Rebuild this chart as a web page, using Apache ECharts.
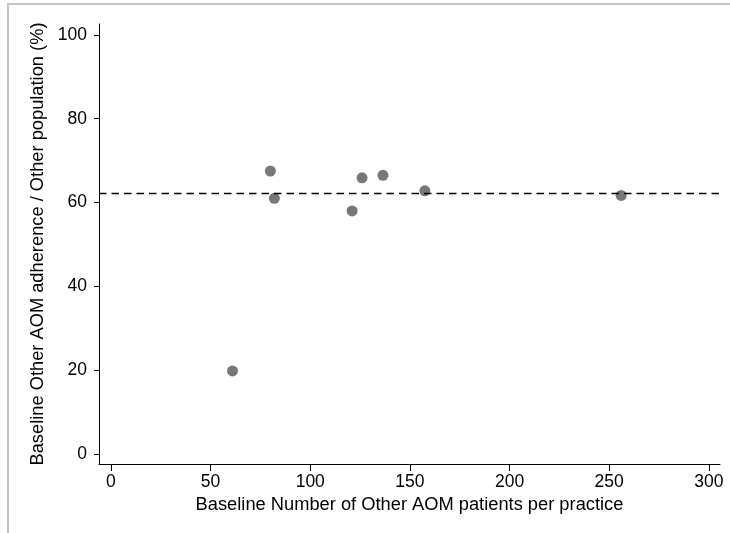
<!DOCTYPE html>
<html>
<head>
<meta charset="utf-8">
<script src="https://cdn.jsdelivr.net/npm/echarts@6/dist/echarts.min.js"></script>
<style>
  html, body { margin: 0; padding: 0; background: #fff; }
  #wrap { position: relative; width: 730px; height: 533px; }
  #frame { position: absolute; left: 7px; top: 3px; width: 723px; height: 530px;
           border-top: 2px solid #c4c4c4; border-left: 2px solid #c4c4c4; box-sizing: border-box; }
  #chart { position: absolute; left: 0; top: 0; width: 730px; height: 533px; }
</style>
</head>
<body>
<div id="wrap"><div id="frame"></div><div id="chart"></div></div>
<script>
// Baseline number of Other AOM patients per practice
const patients = [61, 80, 82, 121, 126, 136.5, 157.5, 256];
// Baseline Other AOM adherence / Other population (%)
const adherence = [19.8, 67.5, 61.0, 58.0, 65.9, 66.5, 62.8, 61.7];
// Reference (dashed) line value
const refLine = 62.3;
const xTicks = [0, 50, 100, 150, 200, 250, 300];
const yTicks = [0, 20, 40, 60, 80, 100];

const font = 'Liberation Sans, Arial, Helvetica, sans-serif';
const points = patients.map((p, i) => [p, adherence[i]]);

const chart = echarts.init(document.getElementById('chart'), null, { renderer: 'canvas' });
chart.setOption({
  animation: false,
  backgroundColor: 'transparent',
  grid: { left: 99, right: 10, top: 24, bottom: 69, containLabel: false },
  xAxis: {
    type: 'value', min: -6, max: 305.6,
    name: 'Baseline Number of Other AOM patients per practice',
    nameLocation: 'middle', nameGap: 28,
    nameTextStyle: { fontFamily: font, fontSize: 18.3, color: '#000' },
    axisLine: { show: true, onZero: false, lineStyle: { color: '#000', width: 1 } },
    axisTick: { show: true, length: 7, customValues: xTicks, lineStyle: { color: '#000' } },
    axisLabel: { customValues: xTicks, margin: 9, fontFamily: font, fontSize: 17.5, color: '#000' },
    splitLine: { show: false }
  },
  yAxis: {
    type: 'value', min: -2.4, max: 102.6,
    name: 'Baseline Other AOM adherence / Other population (%)',
    nameLocation: 'middle', nameGap: 52,
    nameTextStyle: { fontFamily: font, fontSize: 18.3, color: '#000' },
    axisLine: { show: true, onZero: false, lineStyle: { color: '#000', width: 1 } },
    axisTick: { show: true, length: 5, customValues: yTicks, lineStyle: { color: '#000' } },
    axisLabel: { customValues: yTicks, margin: 12, fontFamily: font, fontSize: 17.5, color: '#000' },
    splitLine: { show: false }
  },
  series: [{
    type: 'scatter',
    data: points,
    symbol: 'circle',
    symbolSize: 11,
    itemStyle: { color: '#555555' },
    markLine: {
      silent: true,
      symbol: ['none', 'none'],
      label: { show: false },
      lineStyle: { color: '#000', width: 1.3, type: [7.5, 5] },
      data: [{ yAxis: refLine }]
    }
  }]
});
</script>
</body>
</html>
